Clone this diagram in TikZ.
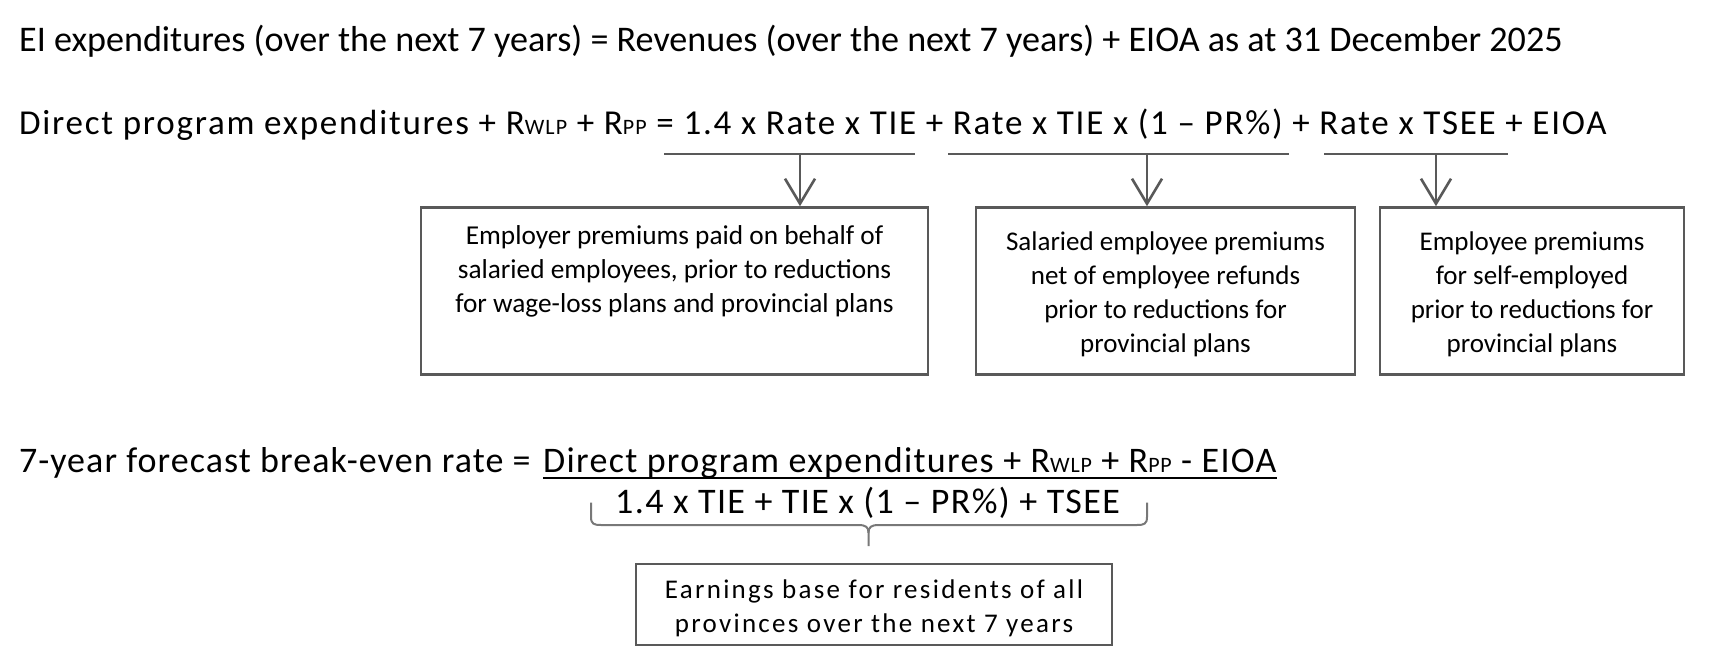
\documentclass[tikz,border=0pt]{standalone}
\usepackage{fontspec}
\setmainfont{Carlito}
\usetikzlibrary{arrows.meta}
\definecolor{linegray}{RGB}{89,89,89}
\definecolor{bracegray}{RGB}{120,120,120}
\newcommand{\smallsub}[1]{{\fontsize{22}{22}\selectfont #1}}
\begin{document}
\begin{tikzpicture}[x=1pt,y=-1pt,
  eqtext/.style={anchor=base west, inner sep=0pt, font=\fontsize{36.1}{40}\selectfont},
  boxframe/.style={draw=linegray, line width=2.6pt, inner sep=0pt},
  boxtext/.style={anchor=north, inner sep=0pt, align=center, font=\fontsize{27}{34}\selectfont},
  conn/.style={draw=linegray, line width=2.6pt},
  arr/.style={conn, -{Straight Barb[length=25pt,width=30pt,line width=2.6pt]}},
]
\useasboundingbox (0,0) rectangle (1713,648);
\fill[white] (0,0) rectangle (1713,648);

% line 1
\node[eqtext] (l1) at (19,51.3) {EI expenditures (over the next 7 years) = Revenues (over the next 7 years) + EIOA as at 31 December 2025};

% line 2
\node[eqtext, font=\fontsize{35}{40}\selectfont\addfontfeature{LetterSpace=5}] (l2) at (19,134.4) {Direct program expenditures + R\smallsub{WLP} + R\smallsub{PP} = 1.4 x Rate x TIE + Rate x TIE x (1 – PR\%) + Rate x TSEE + EIOA};

% underlines
\coordinate (u1a) at (664,154); \coordinate (u1b) at (915,154);
\coordinate (u2a) at (948,154); \coordinate (u2b) at (1289,154);
\coordinate (u3a) at (1324,154); \coordinate (u3b) at (1508,154);
\draw[conn] (u1a) -- (u1b);
\draw[conn] (u2a) -- (u2b);
\draw[conn] (u3a) -- (u3b);
\coordinate (a1) at (800,154);
\coordinate (a2) at (1147,154);
\coordinate (a3) at (1436,154);

% boxes
\node[boxframe, minimum width=507pt, minimum height=167pt] (b1) at (674.5,291) {};
\node[boxframe, minimum width=379pt, minimum height=167pt] (b2) at (1165.5,291) {};
\node[boxframe, minimum width=304pt, minimum height=167pt] (b3) at (1532,291) {};
\node[boxtext, font=\fontsize{27.3}{34}\selectfont] (b1t) at (674.5,225.5) {Employer premiums paid on behalf of\\salaried employees, prior to reductions\\for wage-loss plans and provincial plans};
\node[boxtext] (b2t) at (1165.5,231.5) {Salaried employee premiums\\net of employee refunds\\prior to reductions for\\provincial plans};
\node[boxtext] (b3t) at (1532,231.5) {Employee premiums\\for self-employed\\prior to reductions for\\provincial plans};

\draw[arr] (a1) -- (a1 |- b1.north);
\draw[arr] (a2) -- (a2 |- b2.north);
\draw[arr] (a3) -- (a3 |- b3.north);

% line 3
\node[eqtext, font=\fontsize{36}{40}\selectfont\addfontfeature{LetterSpace=3}] (l3) at (19,472) {7-year forecast break-even rate =};
\node[eqtext, font=\fontsize{36}{40}\selectfont\addfontfeature{LetterSpace=3.6}] (num) at (543,472) {Direct program expenditures + R\smallsub{WLP} + R\smallsub{PP} - EIOA};
\draw[line width=2pt] ([yshift=-6pt]num.base west) -- ([yshift=-6pt]num.base east);
\node[eqtext, font=\fontsize{36}{40}\selectfont\addfontfeature{LetterSpace=3.8}] (den) at (615,513) {1.4 x TIE + TIE x (1 – PR\%) + TSEE};

% brace
\coordinate (brL) at (591,502.6);
\coordinate (brR) at (1147,502.6);
\coordinate (brT) at (868.5,546);
\draw[draw=bracegray, line width=2pt, line join=round]
  (brL) -- (591,517) .. controls (591,524) and (594,525) .. (601,525)
  -- (858,525) .. controls (866,525) and (868.5,527) .. (868.5,533) -- (brT);
\draw[draw=bracegray, line width=2pt, line join=round]
  (brR) -- (1147,517) .. controls (1147,524) and (1144,525) .. (1137,525)
  -- (879,525) .. controls (871,525) and (868.5,527) .. (868.5,533);

% bottom box
\node[boxframe, minimum width=476pt, minimum height=81pt] (b4) at (874,604.5) {};
\node[boxtext, font=\fontsize{27}{34}\selectfont\addfontfeature{LetterSpace=8.5}] (b4t) at (874,580) {Earnings base for residents of all\\provinces over the next 7 years};
\end{tikzpicture}
\end{document}
